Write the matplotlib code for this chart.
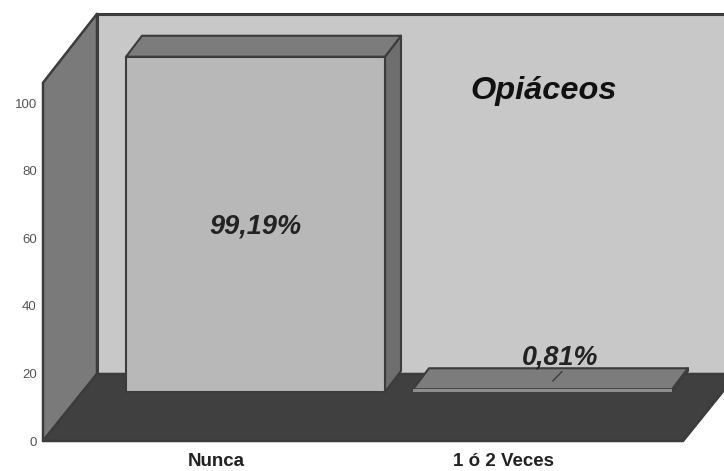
import matplotlib
matplotlib.use('Agg')
import matplotlib.pyplot as plt
from matplotlib.patches import Polygon

categories = ['Nunca', '1 ó 2 Veces']
values = [99.19, 0.81]
value_labels = ['99,19%', '0,81%']
y_ticks = [0, 20, 40, 60, 80, 100]
title = 'Opiáceos'

W, H = 724, 471
# pixels per data unit, and where x=0 / y=0 land in the picture
px_x = 287.0
px_y = 3.38
x0_px = 216.0
y0_px = 441.0
# depth of the box and of the bars, in data units
box_dx = 54 / px_x
box_dy = 67 / px_y
bar_front_dx = 39.5 / px_x
bar_front_dy = 49 / px_y
bar_dx = 16 / px_x
bar_dy = 21 / px_y
bar_w = 259 / px_x
y_top = 106.0
wall_top = 126.4
x_left = (43 - x0_px) / px_x
x_right = (683 - x0_px) / px_x

edge = '#3c3c3c'
front_colors = ['#b8b8b8', '#8e8e8e']
front_lw = [1.5, 0]

fig = plt.figure(figsize=(W / 100, H / 100), dpi=100, facecolor='white')
ax = fig.add_axes([0, 0, 1, 1])
ax.set_xlim(-x0_px / px_x, (W - x0_px) / px_x)
ax.set_ylim((y0_px - H) / px_y, y0_px / px_y)
ax.patch.set_visible(False)


def poly(points, color, z=1, lw=1.5):
    ax.add_patch(Polygon(points, closed=True, facecolor=color, edgecolor=edge,
                         linewidth=lw, joinstyle='round', zorder=z))


# back wall, left wall, floor
poly([(x_left + box_dx, box_dy), (x_left + box_dx, wall_top),
      (x_right + box_dx + 0.3, wall_top), (x_right + box_dx + 0.3, box_dy)], '#c8c8c8', lw=2.2)
poly([(x_left, 0), (x_left + box_dx, box_dy), (x_left + box_dx, wall_top),
      (x_left, y_top)], '#7a7a7a', lw=1.8)
poly([(x_left, 0), (x_right, 0), (x_right + box_dx, box_dy), (x_left + box_dx, box_dy)], '#404040', lw=1.8)

# bars
for i, v in enumerate(values):
    left = i + bar_front_dx - bar_w / 2
    right = left + bar_w
    base = bar_front_dy
    top = base + v
    poly([(right, base), (right + bar_dx, base + bar_dy), (right + bar_dx, top + bar_dy),
          (right, top)], '#6e6e6e', 3)
    poly([(left, top), (right, top), (right + bar_dx, top + bar_dy),
          (left + bar_dx, top + bar_dy)], '#7c7c7c', 3)
    ax.bar(i + bar_front_dx, v, width=bar_w, bottom=base, color=front_colors[i],
           edgecolor=edge, linewidth=front_lw[i], zorder=3)

ax.spines[['top', 'right']].set_visible(False)
ax.spines['left'].set_position(('data', x_left))
ax.spines['bottom'].set_position(('data', 0))
ax.spines['left'].set_visible(False)
ax.spines['bottom'].set_visible(False)
ax.set_xticks(range(len(categories)))
ax.set_xticklabels(categories, family='Liberation Sans', fontweight='bold',
                   fontsize=13.5, color='#222222')
ax.set_yticks(y_ticks)
ax.set_yticklabels(y_ticks, family='Liberation Sans', fontsize=9.5, color='#555555')
ax.tick_params(axis='x', length=0, pad=9)
ax.tick_params(axis='y', length=0, pad=4.5)

# value labels and leader line of the small bar
ax.text(bar_front_dx, 63.4, value_labels[0], family='Liberation Sans', fontweight='bold',
        style='italic', fontsize=19.5, color='#222222', ha='center', va='center', zorder=5)
ax.text(1 + bar_front_dx + 0.06, 24.8, value_labels[1], family='Liberation Sans',
        fontweight='bold', style='italic', fontsize=19.4, color='#222222',
        ha='center', va='center', zorder=5)
ax.plot([1 + 0.174, 1 + 0.205], [17.8, 20.5], color=edge, linewidth=1, zorder=5)

ax.text(1 + 0.14, 103.6, title, family='Liberation Sans', fontweight='bold', style='italic',
        fontsize=23.4, color='#111111', ha='center', va='center', zorder=5)

fig.savefig('out.png', dpi=100)
